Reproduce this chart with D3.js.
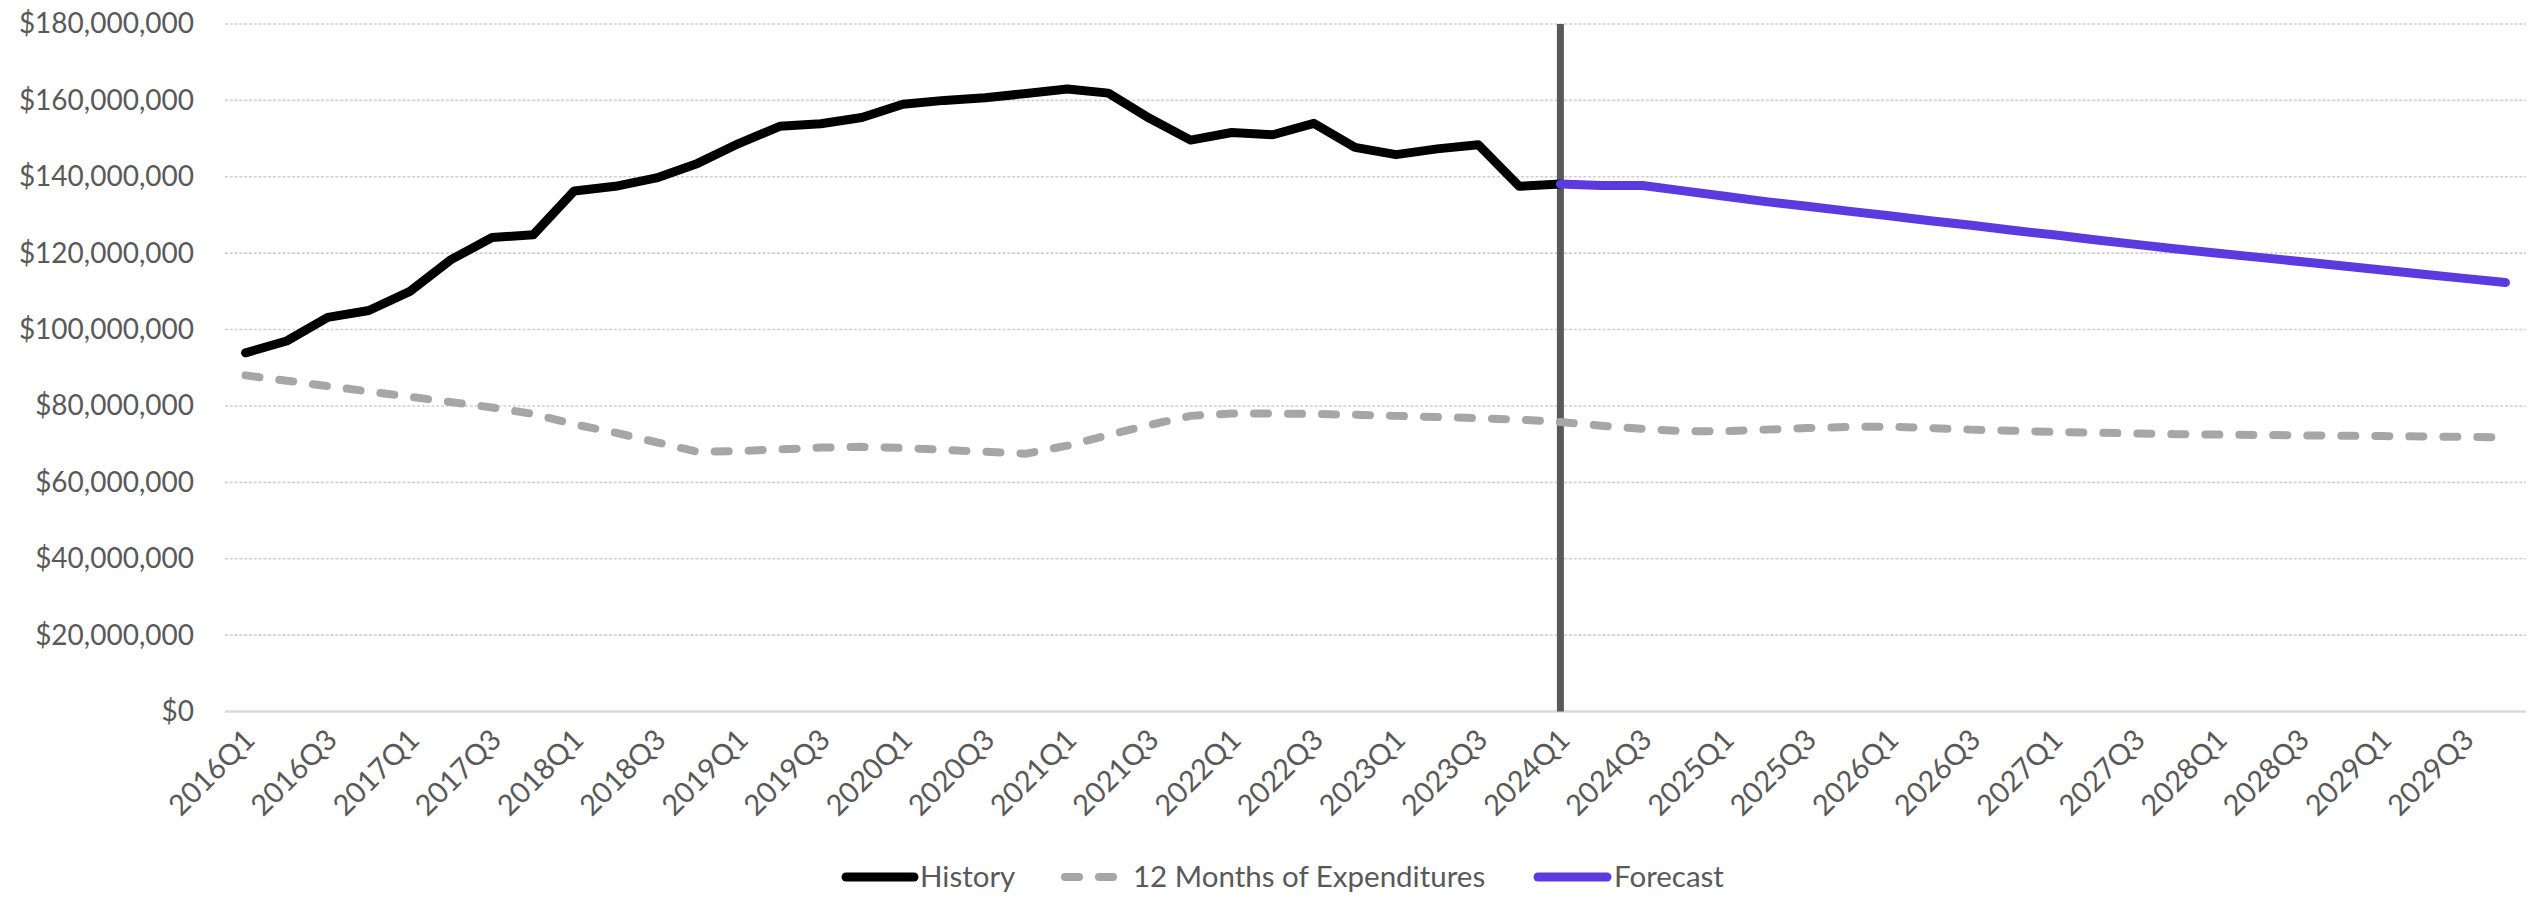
<!DOCTYPE html>
<html>
<head>
<meta charset="utf-8">
<script src="https://cdn.jsdelivr.net/npm/d3@7"></script>
<style>
  html, body { margin: 0; padding: 0; background: #fff; }
  svg { display: block; }
  text { font-family: Lato, "Open Sans", sans-serif; fill: #595959; }
</style>
</head>
<body>
<svg id="chart" width="2529" height="897"></svg>
<script>
const categories = [
  "2016Q1","2016Q2","2016Q3","2016Q4","2017Q1","2017Q2","2017Q3","2017Q4",
  "2018Q1","2018Q2","2018Q3","2018Q4","2019Q1","2019Q2","2019Q3","2019Q4",
  "2020Q1","2020Q2","2020Q3","2020Q4","2021Q1","2021Q2","2021Q3","2021Q4",
  "2022Q1","2022Q2","2022Q3","2022Q4","2023Q1","2023Q2","2023Q3","2023Q4",
  "2024Q1","2024Q2","2024Q3","2024Q4","2025Q1","2025Q2","2025Q3","2025Q4",
  "2026Q1","2026Q2","2026Q3","2026Q4","2027Q1","2027Q2","2027Q3","2027Q4",
  "2028Q1","2028Q2","2028Q3","2028Q4","2029Q1","2029Q2","2029Q3","2029Q4"
];
// values in millions of dollars
const historyValues = [
  93.9, 97.0, 103.2, 105.0, 110.0, 118.3, 124.1, 124.8,
  136.3, 137.5, 139.7, 143.5, 148.7, 153.2, 153.9, 155.5,
  159.0, 160.0, 160.7, 161.8, 163.0, 161.9, 155.3, 149.6,
  151.6, 151.0, 154.0, 147.7, 145.8, 147.3, 148.4, 137.5,
  138.1
];
const forecastStart = "2024Q1";
const forecastValues = [
  138.1, 137.7, 137.7, 136.3, 134.9, 133.5, 132.3, 131.0,
  129.8, 128.5, 127.3, 126.0, 124.8, 123.5, 122.3, 121.1,
  120.0, 118.9, 117.8, 116.7, 115.6, 114.5, 113.4, 112.3
];
const expenditureValues = [
  88.0, 86.6, 85.2, 83.8, 82.4, 81.0, 79.6, 77.9,
  75.2, 73.0, 70.5, 68.0, 68.2, 68.6, 69.1, 69.3,
  69.0, 68.5, 68.0, 67.5, 69.6, 72.4, 75.0, 77.4,
  78.0, 78.0, 77.9, 77.7, 77.4, 77.1, 76.8, 76.4,
  75.8, 74.8, 74.0, 73.4, 73.4, 73.8, 74.2, 74.5,
  74.6, 74.2, 73.8, 73.5, 73.2, 73.0, 72.8, 72.6,
  72.5, 72.4, 72.3, 72.2, 72.1, 72.0, 71.9, 71.8
];
const yTicks = [0, 20, 40, 60, 80, 100, 120, 140, 160, 180];
const xTickLabels = categories.filter((d, i) => i % 2 === 0);
const legendLabels = ["History", "12 Months of Expenditures", "Forecast"];

const W = 2529, H = 897;
const margin = { left: 225, right: 3, top: 24, bottom: 185.5 };
const svg = d3.select("#chart");

const x = d3.scaleBand().domain(categories).range([margin.left, W - margin.right]).padding(0);
const cx = d => x(d) + x.bandwidth() / 2;
const y = d3.scaleLinear().domain([0, 180]).range([H - margin.bottom, margin.top]);

const fmt = v => "$" + d3.format(",")(v * 1e6);

// gridlines
const grid = svg.append("g");
grid.selectAll("line").data(yTicks.filter(t => t > 0)).join("line")
  .attr("x1", margin.left).attr("x2", W - margin.right)
  .attr("y1", d => y(d)).attr("y2", d => y(d))
  .attr("stroke", "#D0D0D0").attr("stroke-width", 1.6)
  .attr("stroke-dasharray", "3,1.8");

// y axis
const yAxis = d3.axisLeft(y).tickValues(yTicks).tickFormat(fmt).tickSize(0).tickPadding(31);
const gy = svg.append("g").attr("transform", `translate(${margin.left},0)`).call(yAxis);
gy.select(".domain").remove();
gy.selectAll("text").attr("font-size", 28).style("font-family", "Lato, 'Open Sans', sans-serif").attr("fill", "#595959");

// x axis baseline
svg.append("line")
  .attr("x1", margin.left).attr("x2", W - margin.right)
  .attr("y1", y(0)).attr("y2", y(0))
  .attr("stroke", "#D9D9D9").attr("stroke-width", 2.5);

// x labels
const xl = svg.append("g");
xl.selectAll("text").data(xTickLabels).join("text")
  .attr("transform", d => `translate(${cx(d) + 4},${y(0) + 23}) rotate(-45)`)
  .attr("text-anchor", "end")
  .attr("dy", "0.35em")
  .attr("font-size", 29)
  .text(d => d);

// vertical forecast divider
svg.append("line")
  .attr("x1", cx(forecastStart)).attr("x2", cx(forecastStart))
  .attr("y1", y(180)).attr("y2", y(0))
  .attr("stroke", "#595959").attr("stroke-width", 7);

const line = d3.line().x(d => cx(d.c)).y(d => y(d.v));

const expData = expenditureValues.map((v, i) => ({ c: categories[i], v }));
const histData = historyValues.map((v, i) => ({ c: categories[i], v }));
const fStart = categories.indexOf(forecastStart);
const foreData = forecastValues.map((v, i) => ({ c: categories[fStart + i], v }));

svg.append("path").datum(expData).attr("d", line)
  .attr("fill", "none").attr("stroke", "#A6A6A6").attr("stroke-width", 8)
  .attr("stroke-dasharray", "14,20").attr("stroke-linecap", "round").attr("stroke-linejoin", "round");

svg.append("path").datum(histData).attr("d", line)
  .attr("fill", "none").attr("stroke", "#000000").attr("stroke-width", 9)
  .attr("stroke-linecap", "round").attr("stroke-linejoin", "round");

svg.append("path").datum(foreData).attr("d", line)
  .attr("fill", "none").attr("stroke", "#5B3ADF").attr("stroke-width", 9)
  .attr("stroke-linecap", "round").attr("stroke-linejoin", "round");

// legend
const ly = 877;
const legend = svg.append("g");
const items = [
  { label: legendLabels[0], color: "#000000", dash: null, x0: 846, x1: 914, tx: 920 },
  { label: legendLabels[1], color: "#A6A6A6", dash: "14,20", x0: 1065, x1: 1118, tx: 1133 },
  { label: legendLabels[2], color: "#5B3ADF", dash: null, x0: 1538, x1: 1607, tx: 1614 }
];
items.forEach(it => {
  const l = legend.append("line")
    .attr("x1", it.x0).attr("x2", it.x1).attr("y1", ly).attr("y2", ly)
    .attr("stroke", it.color).attr("stroke-width", it.dash ? 8 : 9)
    .attr("stroke-linecap", "round");
  if (it.dash) l.attr("stroke-dasharray", it.dash);
  legend.append("text").attr("x", it.tx).attr("y", ly).attr("dy", "0.35em")
    .attr("font-size", 29.5).text(it.label);
});
</script>
</body>
</html>
